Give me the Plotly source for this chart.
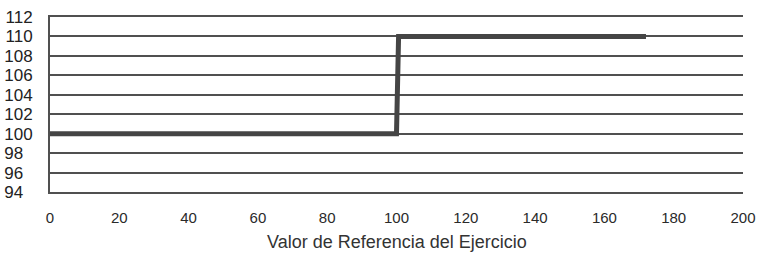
import plotly.graph_objects as go

# Data
step_x = [0, 100, 100.6, 172]
step_y = [100, 100, 110, 110]
y_ticks = [94, 96, 98, 100, 102, 104, 106, 108, 110, 112]
y_ticktext = [("%d" % v) if v >= 100 else ("%d\u00a0\u00a0" % v) for v in y_ticks]
x_ticks = [0, 20, 40, 60, 80, 100, 120, 140, 160, 180, 200]
x_title = "Valor de Referencia del Ejercicio"

fig = go.Figure()
fig.add_trace(go.Scatter(
    x=step_x, y=step_y, mode="lines",
    line=dict(color="#454545", width=5),
    showlegend=False, hoverinfo="skip",
))

fig.update_layout(
    width=760, height=254,
    margin=dict(l=50, r=17, t=17, b=62),
    paper_bgcolor="white", plot_bgcolor="white",
    font=dict(family="Liberation Sans, Arial, sans-serif", color="#222222"),
    xaxis=dict(
        range=[0, 200], tickvals=x_ticks, ticktext=[str(v) for v in x_ticks],
        showgrid=False, zeroline=False, automargin=False,
        showline=True, mirror=True, linecolor="#505050", linewidth=2,
        tickfont=dict(size=15, color="#2a2a2a"),
        ticklabelstandoff=11,
    ),
    yaxis=dict(
        range=[94, 112], tickvals=y_ticks, ticktext=y_ticktext,
        showgrid=True, gridcolor="#505050", gridwidth=2,
        zeroline=False, automargin=False,
        showline=True, linecolor="#505050", linewidth=2,
        tickfont=dict(size=17, color="#222222"),
        ticklabelstandoff=12,
    ),
    annotations=[dict(
        text=x_title, xref="paper", yref="paper",
        x=0.5, y=-0.354, xanchor="center", yanchor="bottom",
        showarrow=False, font=dict(size=18, color="#333333"),
    )],
)

fig.write_html(
    "out.html",
    config={"displayModeBar": False},
    post_script="document.body.style.margin='0';document.body.style.overflow='hidden';",
)
